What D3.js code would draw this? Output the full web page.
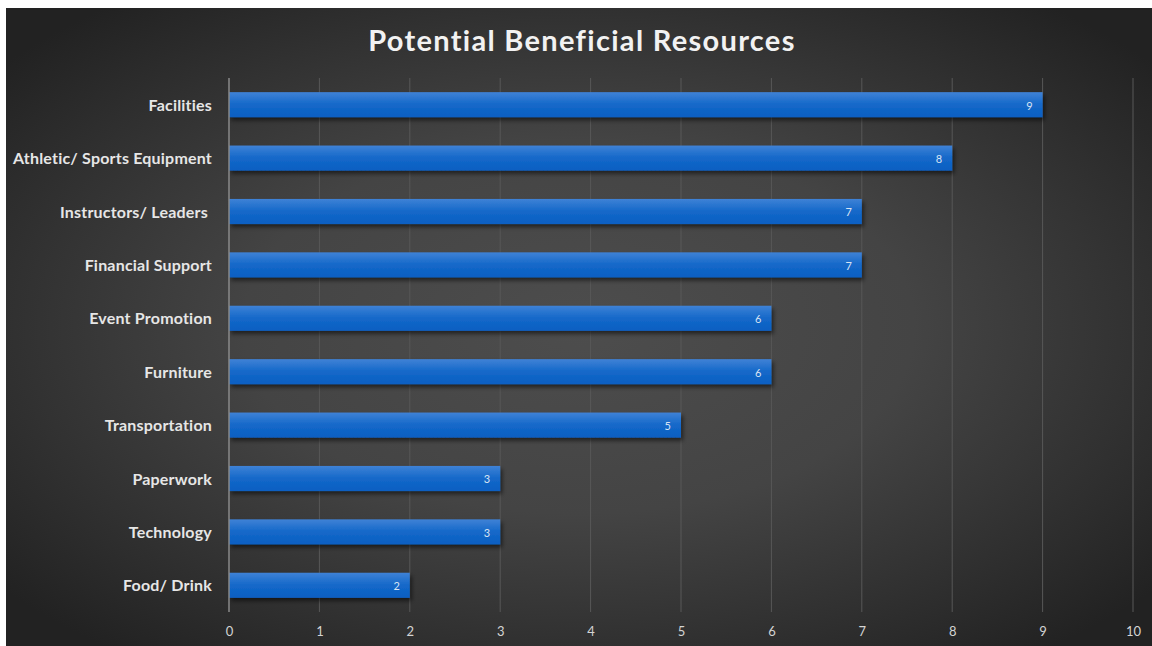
<!DOCTYPE html>
<html>
<head>
<meta charset="utf-8">
<script src="https://cdn.jsdelivr.net/npm/d3@7"></script>
<style>
  body { margin: 0; background: #fff; }
  text { font-family: Lato, "Open Sans", sans-serif; }
</style>
</head>
<body>
<script>
// Data
const categories = ["Facilities", "Athletic/ Sports Equipment", "Instructors/ Leaders ", "Financial Support",
  "Event Promotion", "Furniture", "Transportation", "Paperwork", "Technology", "Food/ Drink"];
const values = [9, 8, 7, 7, 6, 6, 5, 3, 3, 2];
const xTicks = [0, 1, 2, 3, 4, 5, 6, 7, 8, 9, 10];

const width = 1152, height = 646;
const plot = { left: 229, right: 1133, top: 78, bottom: 612 };

const svg = d3.select("body").append("svg")
  .attr("width", width)
  .attr("height", height);

const defs = svg.append("defs");

// background gradient
const bg = defs.append("radialGradient")
  .attr("id", "bg")
  .attr("cx", "50%").attr("cy", "50%").attr("r", "65%");
bg.append("stop").attr("offset", "0%").attr("stop-color", "#4d4d4d");
bg.append("stop").attr("offset", "45%").attr("stop-color", "#444444");
bg.append("stop").attr("offset", "100%").attr("stop-color", "#222222");

// bar gradient
const barGrad = defs.append("linearGradient")
  .attr("id", "bar")
  .attr("x1", 0).attr("y1", 0).attr("x2", 0).attr("y2", 1);
barGrad.append("stop").attr("offset", "0%").attr("stop-color", "#3f82d6");
barGrad.append("stop").attr("offset", "50%").attr("stop-color", "#1468c9");
barGrad.append("stop").attr("offset", "100%").attr("stop-color", "#0a5fc2");

const shadow = defs.append("filter").attr("id", "shadow")
  .attr("x", "-5%").attr("y", "-30%").attr("width", "110%").attr("height", "180%");
shadow.append("feDropShadow")
  .attr("dx", 2).attr("dy", 3).attr("stdDeviation", 2)
  .attr("flood-color", "#000").attr("flood-opacity", 0.55);

svg.append("rect")
  .attr("x", 6).attr("y", 8)
  .attr("width", width - 6).attr("height", height - 8)
  .attr("fill", "url(#bg)");

// Title
svg.append("text")
  .attr("x", 582).attr("y", 51)
  .attr("text-anchor", "middle")
  .attr("fill", "#f2f2f2")
  .style("font-size", "29px")
  .style("font-weight", 700)
  .style("letter-spacing", "1.3px")
  .text("Potential Beneficial Resources");

// Scales
const x = d3.scaleLinear().domain([0, 10]).range([plot.left, plot.right]);
const y = d3.scaleBand().domain(categories).range([plot.top, plot.bottom]).paddingInner(0.53).paddingOuter(0.265);

// Gridlines
svg.append("g")
  .selectAll("line")
  .data(xTicks.slice(1))
  .enter().append("line")
  .attr("x1", d => x(d)).attr("x2", d => x(d))
  .attr("y1", plot.top).attr("y2", plot.bottom)
  .attr("stroke", "#585858")
  .attr("stroke-width", 1);

// X axis labels
const xAxis = svg.append("g")
  .attr("transform", "translate(0," + plot.bottom + ")")
  .call(d3.axisBottom(x).tickValues(xTicks).tickSize(0).tickPadding(15).tickFormat(d3.format("d")));
xAxis.select(".domain").remove();
xAxis.selectAll("text")
  .attr("fill", "#d4d4d4")
  .style("font-size", "13px");

// Bars
svg.append("g")
  .selectAll("rect")
  .data(values)
  .enter().append("rect")
  .attr("x", x(0))
  .attr("y", (d, i) => y(categories[i]))
  .attr("width", d => x(d) - x(0))
  .attr("height", y.bandwidth())
  .attr("fill", "url(#bar)")
  .attr("filter", "url(#shadow)");

// Value labels
svg.append("g")
  .selectAll("text")
  .data(values)
  .enter().append("text")
  .attr("x", d => x(d) - 10)
  .attr("y", (d, i) => y(categories[i]) + y.bandwidth() / 2 + 1)
  .attr("dy", "0.35em")
  .attr("text-anchor", "end")
  .attr("fill", "#d8e4f4")
  .style("font-size", "11px")
  .text(d => d);

// Y axis line
svg.append("line")
  .attr("x1", x(0)).attr("x2", x(0))
  .attr("y1", plot.top).attr("y2", plot.bottom)
  .attr("stroke", "#8a8a8a")
  .attr("stroke-width", 1.5);

// Y axis labels
const yAxis = svg.append("g")
  .attr("transform", "translate(" + x(0) + ",1)")
  .call(d3.axisLeft(y).tickSize(0).tickPadding(17));
yAxis.select(".domain").remove();
yAxis.selectAll("text")
  .attr("fill", "#e6e6e6")
  .style("font-size", "16px")
  .style("font-weight", 700)
  .style("letter-spacing", "0.2px")
  .style("white-space", "pre");
</script>
</body>
</html>
